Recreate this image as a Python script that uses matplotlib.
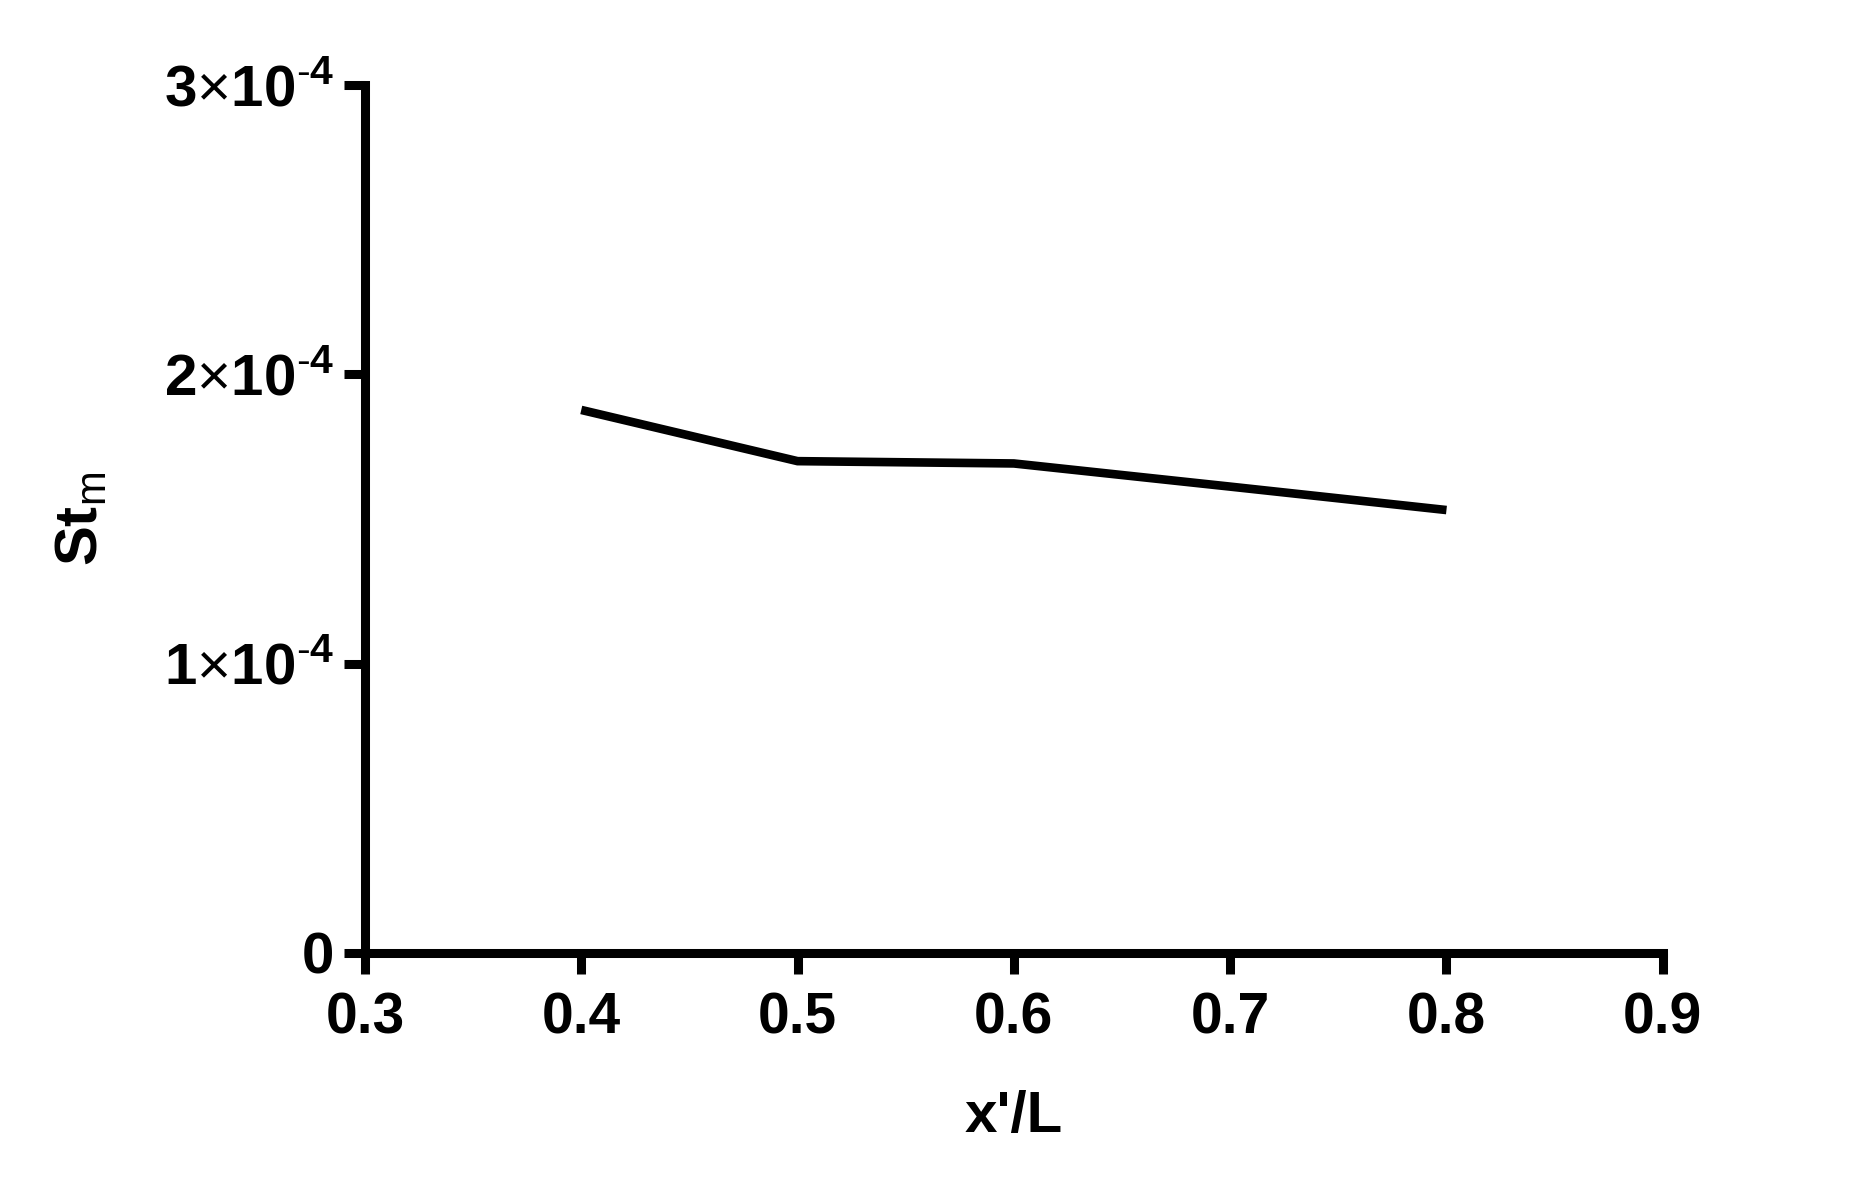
import matplotlib
matplotlib.use('Agg')
import matplotlib.pyplot as plt
from matplotlib.ticker import FixedLocator, FuncFormatter

# data
x_pos = [0.4, 0.5, 0.6, 0.7, 0.8]
st_m = [1.877e-4, 1.70e-4, 1.692e-4, 1.612e-4, 1.531e-4]

x_ticks = [0.3, 0.4, 0.5, 0.6, 0.7, 0.8, 0.9]
y_ticks = [0, 1e-4, 2e-4, 3e-4]

plt.rcParams['font.family'] = ['Liberation Sans', 'DejaVu Sans']
plt.rcParams['mathtext.fontset'] = 'custom'
plt.rcParams['mathtext.rm'] = 'Liberation Sans'
plt.rcParams['mathtext.bf'] = 'Liberation Sans:bold'


def sci_fmt(v, pos):
    if v == 0:
        return '0'
    m = int(round(v / 1e-4))
    return r'$\mathbf{%d}{\times}\mathbf{10}^{\mathbf{\text{-}4}}$' % m


fig = plt.figure(figsize=(18.62, 12.01), dpi=100)
ax = fig.add_axes([0.196, 0.2065, 0.697, 0.7227])

ax.plot(x_pos, st_m, color='black', lw=6.2, solid_capstyle='butt', solid_joinstyle='miter')

ax.set_xlim(0.3, 0.9)
ax.set_ylim(0, 3e-4)
ax.xaxis.set_major_locator(FixedLocator(x_ticks))
ax.yaxis.set_major_locator(FixedLocator(y_ticks))
ax.xaxis.set_major_formatter(FuncFormatter(lambda v, p: '%.1f' % v))
ax.yaxis.set_major_formatter(FuncFormatter(sci_fmt))

for s in ['top', 'right']:
    ax.spines[s].set_visible(False)
for s in ['left', 'bottom']:
    ax.spines[s].set_linewidth(6.5)
    ax.spines[s].set_capstyle('projecting')

ax.tick_params(axis='both', direction='out', length=15, width=6.5, color='black')
ax.tick_params(axis='x', labelsize=41, pad=13)
ax.tick_params(axis='y', labelsize=42, pad=7)
for lab in ax.get_xticklabels() + ax.get_yticklabels():
    lab.set_fontweight('bold')

ax.set_xlabel("x'/L", fontsize=42, fontweight='bold', labelpad=32)
ax.set_ylabel(r'St$_{\mathrm{m}}$', fontsize=43, fontweight='bold', labelpad=40)

plt.savefig('out.png', dpi=100, facecolor='white')
